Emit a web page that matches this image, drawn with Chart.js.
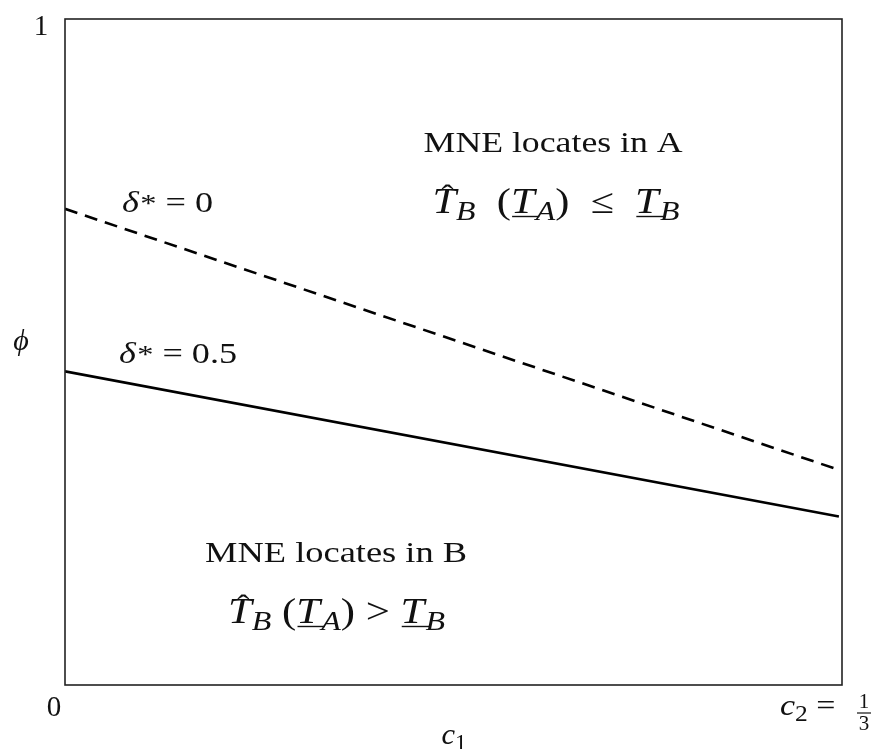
<!DOCTYPE html>
<html lang="en">
<head>
  <title>MNE location regions</title>
  <meta charset="utf-8">
  <script src="https://cdn.jsdelivr.net/npm/chart.js@4.4.1/dist/chart.umd.min.js"></script>
  <style>
    body { margin: 0; background: #fff; }
    #wrap { width: 873px; height: 749px; }
  </style>
</head>
<body>
<div id="wrap"><canvas id="mycanvas" width="873" height="749"></canvas></div>

<script>
// c1 runs from 0 to c2 = 1/3, phi from 0 to 1
const c1Vals = [0, 0.332];
const phiDelta0 = [0.715, 0.323];   // delta* = 0  (dashed)
const phiDelta05 = [0.471, 0.253]; // delta* = 0.5 (solid)
const xMax = 1 / 3;
const yMax = 1;

const SERIF = '"Liberation Serif", "DejaVu Serif", serif';
const INK = '#111';

// small rich text helper: runs of {t, i (italic), sub, sup, ul, hat, k (kern)}
function runFont(r, size) {
  let s = size;
  if (r.sub) s = size * 0.75;
  if (r.size) s = r.size;
  return (r.i ? 'italic ' : '') + s + 'px ' + SERIF;
}

function richWidth(ctx, runs, size) {
  let w = 0;
  runs.forEach(r => {
    ctx.font = runFont(r, size);
    w += ctx.measureText(r.t).width + (r.k || 0);
  });
  return w;
}

// draws runs with baseline at y; fitW stretches the whole line horizontally
function drawRich(ctx, runs, x, y, size, align, fitW) {
  const natural = richWidth(ctx, runs, size);
  const sx = fitW ? fitW / natural : 1;
  ctx.save();
  ctx.fillStyle = INK;
  ctx.strokeStyle = INK;
  ctx.textBaseline = 'alphabetic';
  ctx.textAlign = 'left';
  const left = align == 'center' ? x - natural * sx / 2 : x;
  ctx.translate(left, y);
  ctx.scale(sx, 1);
  let cx = 0;
  runs.forEach(r => {
    ctx.font = runFont(r, size);
    let dy = 0;
    if (r.sub) dy = size * 0.2;
    if (r.sup) dy = r.sup;
    const w = ctx.measureText(r.t).width;
    ctx.fillText(r.t, cx, dy);
    if (r.ul) {
      ctx.lineWidth = 1.4;
      ctx.beginPath();
      ctx.moveTo(cx + 1, 3.5);
      ctx.lineTo(cx + w + 4, 3.5);
      ctx.stroke();
    }
    if (r.hat) {
      ctx.font = (size * 0.85) + 'px ' + SERIF;
      ctx.textAlign = 'center';
      ctx.fillText('\u02C6', cx + w * 0.64, -size * 0.22);
      ctx.textAlign = 'left';
    }
    cx += w + (r.k || 0);
  });
  ctx.restore();
}

const formulaA = [
  {t: 'T', i: 1, hat: 1, k: 0}, {t: 'B', i: 1, sub: 1}, {t: '  '},
  {t: '('}, {t: 'T', i: 1, ul: 1, k: 1}, {t: 'A', i: 1, sub: 1}, {t: ')'},
  {t: '  \u2264  '}, {t: 'T', i: 1, ul: 1, k: 1}, {t: 'B', i: 1, sub: 1}
];
const formulaB = [
  {t: 'T', i: 1, hat: 1, k: 0}, {t: 'B', i: 1, sub: 1}, {t: ' '},
  {t: '('}, {t: 'T', i: 1, ul: 1, k: 1}, {t: 'A', i: 1, sub: 1}, {t: ')'},
  {t: ' > '}, {t: 'T', i: 1, ul: 1, k: 1}, {t: 'B', i: 1, sub: 1}
];

// frame + all labels
const decorPlugin = {
  id: 'decor',
  afterDraw(chart) {
    const ctx = chart.ctx;
    const a = chart.chartArea;
    const sx = chart.scales.x, sy = chart.scales.y;
    const X = v => sx.getPixelForValue(v);
    const Y = v => sy.getPixelForValue(v);

    ctx.save();
    ctx.strokeStyle = '#222';
    ctx.lineWidth = 1.6;
    ctx.strokeRect(a.left, a.top, a.right - a.left, a.bottom - a.top);
    ctx.restore();

    // axis ticks / titles
    ctx.save();
    ctx.fillStyle = INK;
    ctx.font = '29px ' + SERIF;
    ctx.textAlign = 'center';
    ctx.fillText('1', a.left - 24, Y(1) + 16);
    ctx.fillText('0', a.left - 11, Y(0) + 31);
    ctx.font = 'italic 30px ' + SERIF;
    ctx.fillText('\u03D5', a.left - 44, Y(0.5) - 2);
    ctx.restore();

    drawRich(ctx, [{t: 'c', i: 1, k: 0}, {t: '1', sub: 1}], X(xMax / 2) - 12, a.bottom + 59, 30, 'left', 25);

    // c2 = 1/3 at the right end
    const c2x = X(xMax) - 62;
    const c2y = a.bottom + 30;
    drawRich(ctx, [{t: 'c', i: 1, k: 0}, {t: '2', sub: 1}, {t: ' = '}], c2x, c2y, 30, 'left', 64);
    const fx = X(xMax) + 22;
    ctx.save();
    ctx.fillStyle = INK;
    ctx.strokeStyle = INK;
    ctx.font = '21px ' + SERIF;
    ctx.textAlign = 'center';
    ctx.fillText('1', fx, c2y - 7);
    ctx.fillText('3', fx, c2y + 15);
    ctx.lineWidth = 1.2;
    ctx.beginPath();
    ctx.moveTo(fx - 7, c2y - 2);
    ctx.lineTo(fx + 7, c2y - 2);
    ctx.stroke();
    ctx.restore();

    // line labels
    drawRich(ctx, [{t: '\u03B4', i: 1, k: 1}, {t: '*', sup: 0, size: 26}, {t: ' = 0'}],
      X(0.0245), Y(0.710), 29, 'left', 91);
    drawRich(ctx, [{t: '\u03B4', i: 1, k: 1}, {t: '*', sup: 0, size: 26}, {t: ' = 0.5'}],
      X(0.0232), Y(0.4835), 29, 'left', 118);

    // region texts
    drawRich(ctx, [{t: 'MNE locates in A'}], X(0.2094), Y(0.8003), 29, 'center', 259);
    drawRich(ctx, formulaA, X(0.2106), Y(0.7087), 35, 'center', 247);
    drawRich(ctx, [{t: 'MNE locates in B'}], X(0.1163), Y(0.1847), 29, 'center', 262);
    drawRich(ctx, formulaB, X(0.1165), Y(0.0931), 35, 'center', 217);
  }
};

const ctx_live = document.getElementById('mycanvas');
const myChart = new Chart(ctx_live, {
  type: 'line',
  data: {
    datasets: [{
      label: 'delta* = 0',
      data: c1Vals.map((c, i) => ({x: c, y: phiDelta0[i]})),
      borderColor: '#000',
      borderWidth: 2.6,
      borderDash: [13, 8],
      pointRadius: 0,
      fill: false
    }, {
      label: 'delta* = 0.5',
      data: c1Vals.map((c, i) => ({x: c, y: phiDelta05[i]})),
      borderColor: '#000',
      borderWidth: 2.6,
      pointRadius: 0,
      fill: false
    }]
  },
  options: {
    responsive: false,
    animation: false,
    layout: { padding: { left: 65, top: 19, right: 31, bottom: 64 } },
    scales: {
      x: { type: 'linear', min: 0, max: xMax, display: false },
      y: { type: 'linear', min: 0, max: yMax, display: false }
    },
    plugins: {
      legend: { display: false },
      tooltip: { enabled: false }
    }
  },
  plugins: [decorPlugin]
});
</script>
</body>
</html>
